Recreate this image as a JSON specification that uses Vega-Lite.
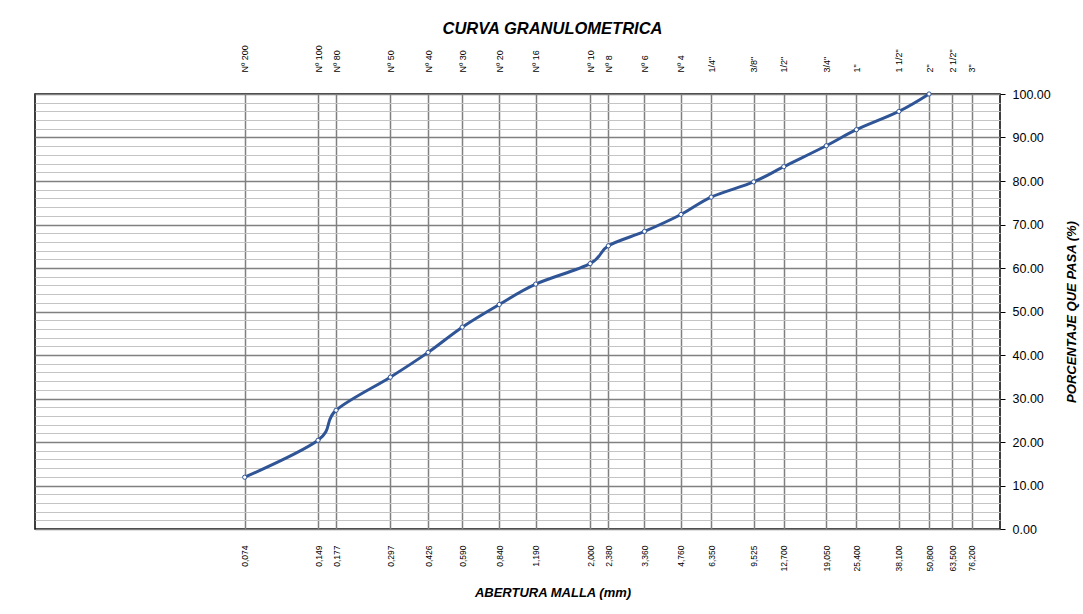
{
  "$schema": "https://vega.github.io/schema/vega-lite/v6.json",
  "width": 965,
  "height": 435,
  "autosize": {"type": "none"},
  "padding": {"left": 35, "top": 94, "right": 83, "bottom": 85},
  "background": "white",
  "config": {
    "font": "Liberation Sans",
    "view": {"stroke": "black", "strokeWidth": 1.5},
    "axis": {"labelFont": "Liberation Sans", "titleFont": "Liberation Sans", "labelColor": "black", "titleColor": "black"}
  },
  "title": {
    "text": "CURVA GRANULOMETRICA",
    "font": "Liberation Sans",
    "fontSize": 16.5,
    "fontWeight": "bold",
    "fontStyle": "italic",
    "color": "black",
    "anchor": "middle",
    "frame": "group",
    "dx": 35,
    "offset": 7
  },
  "data": {
    "values": [
      {"tamiz": "Nº 200", "abertura": 0.074, "pasa": 11.9},
      {"tamiz": "Nº 100", "abertura": 0.149, "pasa": 20.4},
      {"tamiz": "Nº 80", "abertura": 0.177, "pasa": 27.3},
      {"tamiz": "Nº 50", "abertura": 0.297, "pasa": 34.9},
      {"tamiz": "Nº 40", "abertura": 0.426, "pasa": 40.6},
      {"tamiz": "Nº 30", "abertura": 0.59, "pasa": 46.4},
      {"tamiz": "Nº 20", "abertura": 0.84, "pasa": 51.6},
      {"tamiz": "Nº 16", "abertura": 1.19, "pasa": 56.3},
      {"tamiz": "Nº 10", "abertura": 2.0, "pasa": 61.0},
      {"tamiz": "Nº 8", "abertura": 2.38, "pasa": 65.1},
      {"tamiz": "Nº 6", "abertura": 3.36, "pasa": 68.4},
      {"tamiz": "Nº 4", "abertura": 4.76, "pasa": 72.3},
      {"tamiz": "1/4\"", "abertura": 6.35, "pasa": 76.3},
      {"tamiz": "3/8\"", "abertura": 9.525, "pasa": 79.8},
      {"tamiz": "1/2\"", "abertura": 12.7, "pasa": 83.3},
      {"tamiz": "3/4\"", "abertura": 19.05, "pasa": 88.1},
      {"tamiz": "1\"", "abertura": 25.4, "pasa": 91.8},
      {"tamiz": "1 1/2\"", "abertura": 38.1, "pasa": 96.0},
      {"tamiz": "2\"", "abertura": 50.8, "pasa": 100}
    ]
  },
  "layer": [
    {
      "mark": {"type": "line", "interpolate": "cardinal", "tension": 0, "color": "#2F5597", "strokeWidth": 3},
      "encoding": {
        "x": {
          "field": "abertura", "type": "quantitative",
          "scale": {"type": "log", "domain": [0.01, 100], "nice": false},
          "axis": {
            "orient": "bottom",
            "values": [0.074, 0.149, 0.177, 0.297, 0.426, 0.59, 0.84, 1.19, 2.0, 2.38, 3.36, 4.76, 6.35, 9.525, 12.7, 19.05, 25.4, 38.1, 50.8, 63.5, 76.2],
            "labelExpr": "replace(format(datum.value, '.3f'), '.', ',')",
            "labelAngle": 270,
            "labelAlign": "right",
            "labelBaseline": "middle",
            "labelPadding": 16,
            "labelFontSize": 8.5,
            "labelOverlap": false,
            "labelFlush": false,
            "labelBound": false,
            "grid": false,
            "ticks": false,
            "domain": false,
            "title": "ABERTURA MALLA (mm)",
            "titleFontSize": 13,
            "titleFontWeight": "bold",
            "titleFontStyle": "italic",
            "titleX": 517.5,
            "titleY": 63,
            "titleAlign": "center",
            "titleBaseline": "middle"
          }
        },
        "y": {
          "field": "pasa", "type": "quantitative",
          "scale": {"domain": [0, 100], "nice": false},
          "axis": {
            "orient": "right",
            "values": [0, 10, 20, 30, 40, 50, 60, 70, 80, 90, 100],
            "format": ".2f",
            "labelFontSize": 12.5,
            "labelPadding": 7,
            "tickSize": 5,
            "tickColor": "black",
            "tickWidth": 1,
            "domain": false,
            "grid": true,
            "gridColor": "#808080",
            "gridWidth": 1.5,
            "gridOpacity": 1,
            "title": "PORCENTAJE QUE PASA (%)",
            "titleFontSize": 13,
            "titleFontWeight": "bold",
            "titleFontStyle": "italic",
            "titleAngle": 270,
            "titleX": 71,
            "titleY": 217.5,
            "titleAlign": "center",
            "titleBaseline": "middle"
          }
        }
      }
    },
    {
      "mark": {"type": "point", "shape": "circle", "filled": true, "fill": "white", "stroke": "#2F5597", "strokeWidth": 1, "size": 18, "opacity": 1},
      "encoding": {
        "x": {
          "field": "abertura", "type": "quantitative",
          "scale": {"type": "log", "domain": [0.01, 100], "nice": false},
          "axis": {
            "orient": "top",
            "values": [0.074, 0.149, 0.177, 0.297, 0.426, 0.59, 0.84, 1.19, 2.0, 2.38, 3.36, 4.76, 6.35, 9.525, 12.7, 19.05, 25.4, 38.1, 50.8, 63.5, 76.2],
            "labelExpr": "['Nº 200','Nº 100','Nº 80','Nº 50','Nº 40','Nº 30','Nº 20','Nº 16','Nº 10','Nº 8','Nº 6','Nº 4','1/4\"','3/8\"','1/2\"','3/4\"','1\"','1 1/2\"','2\"','2 1/2\"','3\"'][indexof([0.074,0.149,0.177,0.297,0.426,0.59,0.84,1.19,2.0,2.38,3.36,4.76,6.35,9.525,12.7,19.05,25.4,38.1,50.8,63.5,76.2], datum.value)]",
            "labelAngle": 270,
            "labelAlign": "left",
            "labelBaseline": "middle",
            "labelPadding": 22,
            "labelFontSize": 9,
            "labelOverlap": false,
            "labelFlush": false,
            "labelBound": false,
            "grid": true,
            "gridColor": "#808080",
            "gridWidth": 1.5,
            "gridOpacity": 1,
            "ticks": false,
            "domain": false,
            "title": null
          }
        },
        "y": {
          "field": "pasa", "type": "quantitative",
          "scale": {"domain": [0, 100], "nice": false},
          "axis": {
            "orient": "left",
            "values": [2, 4, 6, 8, 12, 14, 16, 18, 22, 24, 26, 28, 32, 34, 36, 38, 42, 44, 46, 48, 52, 54, 56, 58, 62, 64, 66, 68, 72, 74, 76, 78, 82, 84, 86, 88, 92, 94, 96, 98],
            "labels": false,
            "ticks": false,
            "domain": false,
            "grid": true,
            "gridColor": "#c4c4c4",
            "gridWidth": 1.2,
            "gridOpacity": 1,
            "title": null
          }
        }
      }
    }
  ],
  "resolve": {"axis": {"x": "independent", "y": "independent"}}
}
